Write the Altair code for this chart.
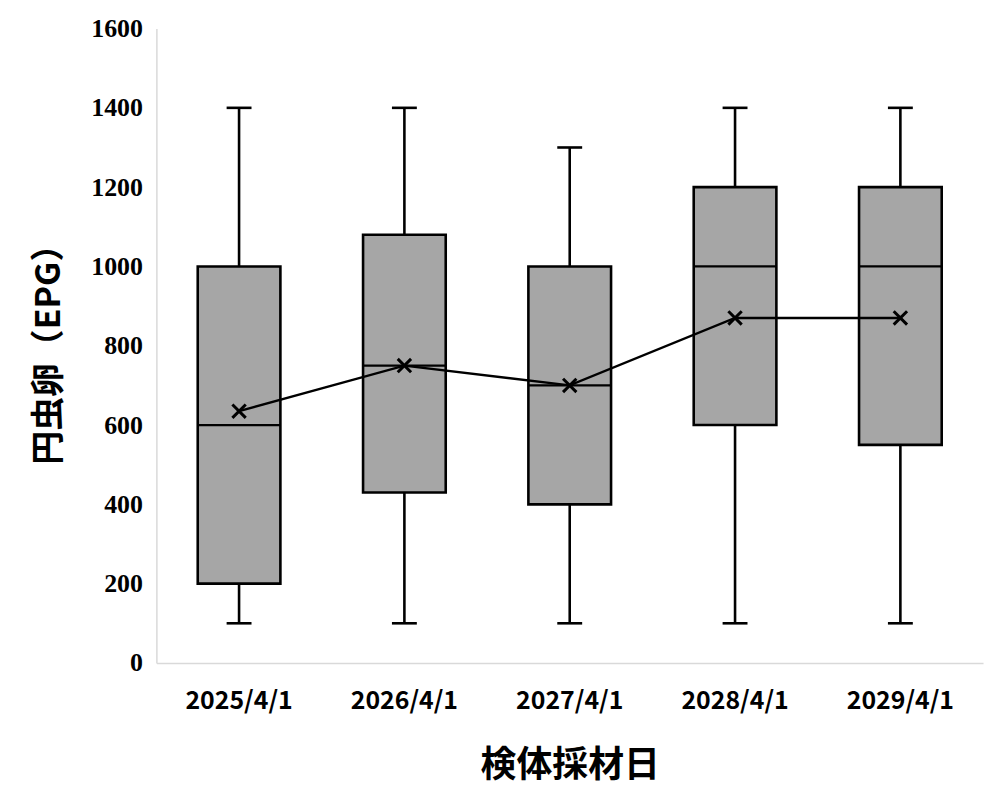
import altair as alt
import pandas as pd

dates = ["2025/4/1", "2026/4/1", "2027/4/1", "2028/4/1", "2029/4/1"]
mins = [100, 100, 100, 100, 100]
q1s = [200, 430, 400, 600, 550]
medians = [600, 750, 700, 1000, 1000]
q3s = [1000, 1080, 1000, 1200, 1200]
maxs = [1400, 1400, 1300, 1400, 1400]
means = [635, 750, 700, 870, 870]

df = pd.DataFrame({"date": dates, "min": mins, "q1": q1s, "median": medians,
                   "q3": q3s, "max": maxs, "mean": means})

x = alt.X("date:N", sort=dates,
          scale=alt.Scale(paddingInner=0, paddingOuter=0),
          axis=alt.Axis(title="検体採材日", labelAngle=0, ticks=False,
                        domainColor="#d9d9d9", domainWidth=1.5,
                        labelFont="Noto Sans CJK JP", labelFontWeight="bold",
                        labelFontSize=25, labelColor="black", labelPadding=26,
                        titleFont="Noto Sans CJK JP", titleFontWeight="bold",
                        titleFontSize=36, titleColor="black", titlePadding=35))
y_axis = alt.Axis(title="円虫卵（EPG）", values=list(range(0, 1601, 200)), format="d",
                  grid=False, ticks=False, domainColor="#d9d9d9", domainWidth=1.5,
                  labelFont="Liberation Serif", labelFontWeight="bold",
                  labelFontSize=26, labelColor="black", labelPadding=14,
                  titleFont="Noto Sans CJK JP", titleFontWeight="bold",
                  titleFontSize=34, titleColor="black", titlePadding=24)
yscale = alt.Scale(domain=[0, 1600], nice=False)

base = alt.Chart(df)

lower_whisker = base.mark_rule(color="black", strokeWidth=2.6).encode(
    x=x, y=alt.Y("min:Q", scale=yscale, axis=y_axis), y2="q1:Q")
upper_whisker = base.mark_rule(color="black", strokeWidth=2.6).encode(
    x=x, y=alt.Y("q3:Q", scale=yscale, axis=y_axis), y2="max:Q")
cap_low = base.mark_tick(color="black", size=25, thickness=2.6, opacity=1,
                         orient="horizontal").encode(
    x=x, y=alt.Y("min:Q", scale=yscale, axis=y_axis))
cap_high = base.mark_tick(color="black", size=25, thickness=2.6, opacity=1,
                          orient="horizontal").encode(
    x=x, y=alt.Y("max:Q", scale=yscale, axis=y_axis))
box = base.mark_bar(width={"band": 0.5}, color="#a6a6a6", stroke="black",
                    strokeWidth=2.6, opacity=1).encode(
    x=x, y=alt.Y("q1:Q", scale=yscale, axis=y_axis), y2="q3:Q")
median = base.mark_tick(color="black", size=83, thickness=2.2, opacity=1,
                        orient="horizontal").encode(
    x=x, y=alt.Y("median:Q", scale=yscale, axis=y_axis))
mean_line = base.mark_line(color="black", strokeWidth=2.3).encode(
    x=x, y=alt.Y("mean:Q", scale=yscale, axis=y_axis))
mean_pts = base.mark_point(shape="M-1,-1L1,1M-1,1L1,-1", size=180, color="black",
                           strokeWidth=3, opacity=1).encode(
    x=x, y=alt.Y("mean:Q", scale=yscale, axis=y_axis))

chart = alt.layer(lower_whisker, upper_whisker, cap_low, cap_high, box, median,
                  mean_line, mean_pts).properties(
    width=830, height=637,
    background="white",
    autosize=alt.AutoSizeParams(type="none"),
    padding={"left": 149, "top": 19, "right": 10, "bottom": 140},
).configure_view(strokeWidth=0, stroke="transparent")

chart.save("out.html", embed_options={"renderer": "svg", "actions": False})
